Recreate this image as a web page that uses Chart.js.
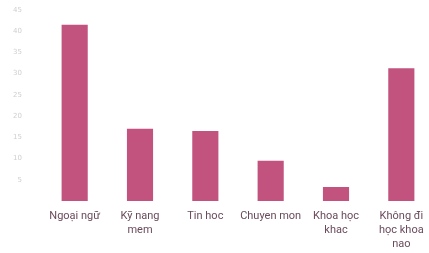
<!DOCTYPE html>
<html>
<head>
<meta charset="utf-8">
<script src="https://cdn.jsdelivr.net/npm/chart.js@4"></script>
<style>
  html, body { margin: 0; padding: 0; background: #fff; overflow: hidden; }
  #wrap { width: 434px; height: 253px; }
</style>
</head>
<body>
<div id="wrap"><canvas id="barChart"></canvas></div>
<script>
const categories = [
  "Ngoại ngữ",
  ["Kỹ nang", "mem"],
  "Tin hoc",
  "Chuyen mon",
  ["Khoa học", "khac"],
  ["Không đi", "học khoa", "nao"],
];
const values = [41.5, 17, 16.5, 9.5, 3.3, 31.3];
const yTicks = [0, 5, 10, 15, 20, 25, 30, 35, 40, 45];

const ctx = document.getElementById("barChart").getContext("2d");
new Chart(ctx, {
  type: "bar",
  data: {
    labels: categories,
    datasets: [
      {
        label: "Tỷ lệ",
        data: values,
        backgroundColor: "#c2527e",
        borderWidth: 0,
        barPercentage: 0.4,
        categoryPercentage: 1,
      },
    ],
  },
  options: {
    responsive: true,
    maintainAspectRatio: false,
    animation: false,
    layout: { padding: { top: 10, left: 0, right: 0, bottom: 0 } },
    plugins: {
      legend: { display: false },
      tooltip: { enabled: false },
    },
    scales: {
      y: {
        min: 0,
        max: 45,
        afterBuildTicks: (scale) => {
          scale.ticks = yTicks.map((v) => ({ value: v }));
        },
        afterFit: (scale) => {
          scale.width = 42;
          scale.paddingTop = 0;
          scale.paddingBottom = 0;
        },
        grid: { display: false, drawTicks: false },
        border: { display: false },
        ticks: {
          color: "#cfcfcf",
          font: { family: "DejaVu Sans", size: 7 },
          padding: 20,
          callback: (v) => (v === 0 ? "" : v),
        },
      },
      x: {
        afterFit: (scale) => {
          scale.height = 52;
          scale.paddingLeft = 0;
          scale.paddingRight = 0;
        },
        grid: { display: false, drawTicks: false },
        border: { display: false },
        ticks: {
          color: "#6a4a5c",
          font: { family: "Roboto", size: 11, lineHeight: 1.27 },
          padding: 8,
          maxRotation: 0,
          autoSkip: false,
        },
      },
    },
  },
});
</script>
</body>
</html>
